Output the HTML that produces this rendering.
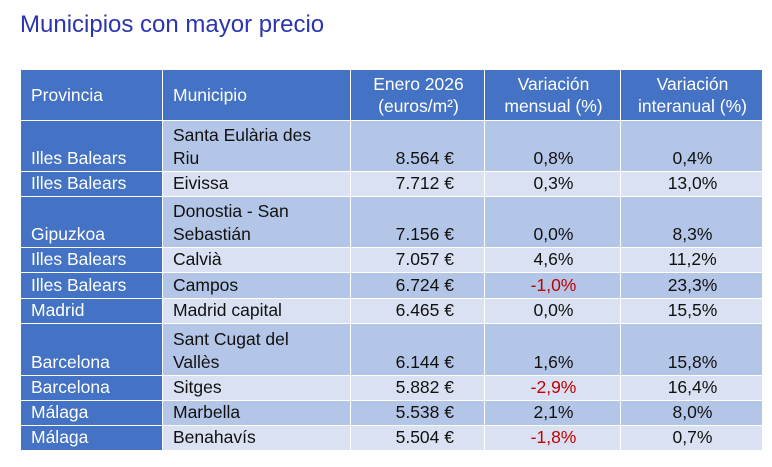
<!DOCTYPE html>
<html><head><meta charset="utf-8"><style>
body{margin:0;width:772px;height:467px;background:#fff;font-family:"Liberation Sans",sans-serif;position:relative;overflow:hidden}
h1{position:absolute;left:20px;top:11px;margin:0;font-weight:normal;font-size:24px;color:#2B35AF}
table{position:absolute;left:20px;top:69px;border-collapse:collapse;table-layout:fixed;font-size:17.5px}
td{border:1px solid #fff;padding:0 8px 1px 10px;vertical-align:bottom;line-height:23px;color:#111;overflow:hidden;white-space:nowrap}
tr.h td{background:#4472C4;color:#fff;vertical-align:middle;text-align:center;line-height:22px}
tr.h td.l{text-align:left}
td.p{background:#4472C4;color:#fff}
tr.d td{background:#B4C6E7}tr.g td{background:#D9E1F2}
tr.d td.p,tr.g td.p{background:#4472C4}
td.r{text-align:right;padding-right:30px}
td.c{text-align:center}
.n{color:#C00000}
</style></head><body>
<h1>Municipios con mayor precio</h1>
<table>
<colgroup><col style="width:142px"><col style="width:188px"><col style="width:134px"><col style="width:136px"><col style="width:142px"></colgroup>
<tr class="h" style="height:51px"><td class="l">Provincia</td><td class="l">Municipio</td><td>Enero 2026<br>(euros/m²)</td><td>Variación<br>mensual (%)</td><td>Variación<br>interanual (%)</td></tr>
<tr class="d" style="height:51px"><td class="p">Illes Balears</td><td>Santa Eulària des<br>Riu</td><td class="r">8.564 €</td><td class="c">0,8%</td><td class="c">0,4%</td></tr>
<tr class="g" style="height:25px"><td class="p">Illes Balears</td><td>Eivissa</td><td class="r">7.712 €</td><td class="c">0,3%</td><td class="c">13,0%</td></tr>
<tr class="d" style="height:51px"><td class="p">Gipuzkoa</td><td>Donostia - San<br>Sebastián</td><td class="r">7.156 €</td><td class="c">0,0%</td><td class="c">8,3%</td></tr>
<tr class="g" style="height:25px"><td class="p">Illes Balears</td><td>Calvià</td><td class="r">7.057 €</td><td class="c">4,6%</td><td class="c">11,2%</td></tr>
<tr class="d" style="height:26px"><td class="p">Illes Balears</td><td>Campos</td><td class="r">6.724 €</td><td class="c n">-1,0%</td><td class="c">23,3%</td></tr>
<tr class="g" style="height:25px"><td class="p">Madrid</td><td>Madrid capital</td><td class="r">6.465 €</td><td class="c">0,0%</td><td class="c">15,5%</td></tr>
<tr class="d" style="height:52px"><td class="p">Barcelona</td><td>Sant Cugat del<br>Vallès</td><td class="r">6.144 €</td><td class="c">1,6%</td><td class="c">15,8%</td></tr>
<tr class="g" style="height:25px"><td class="p">Barcelona</td><td>Sitges</td><td class="r">5.882 €</td><td class="c n">-2,9%</td><td class="c">16,4%</td></tr>
<tr class="d" style="height:25px"><td class="p">Málaga</td><td>Marbella</td><td class="r">5.538 €</td><td class="c">2,1%</td><td class="c">8,0%</td></tr>
<tr class="g" style="height:25px"><td class="p">Málaga</td><td>Benahavís</td><td class="r">5.504 €</td><td class="c n">-1,8%</td><td class="c">0,7%</td></tr>
</table>
</body></html>
